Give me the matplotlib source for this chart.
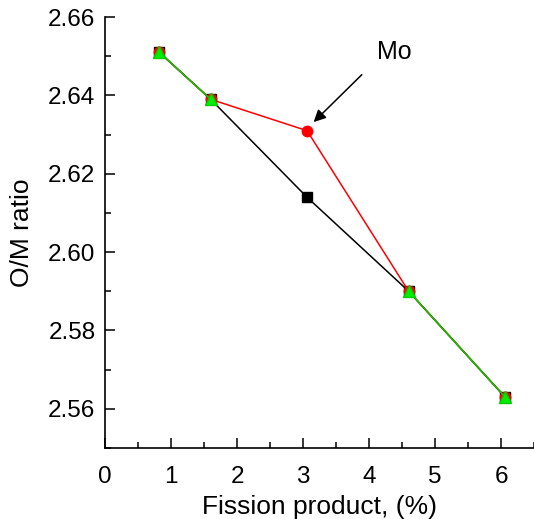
import numpy as np
import matplotlib.pyplot as plt
from matplotlib.ticker import MultipleLocator

plt.rcParams['font.family'] = ['Liberation Sans', 'DejaVu Sans']

# data
fission = [0.82, 1.6, 3.06, 4.6, 6.06]
om_black = [2.651, 2.639, 2.614, 2.590, 2.563]
om_red = [2.651, 2.639, 2.631, 2.590, 2.563]
om_green = [2.651, 2.639, np.nan, 2.590, 2.563]

fig = plt.figure(figsize=(5.34, 5.19), dpi=100)
ax = fig.add_axes([0.197, 0.137, 0.803, 0.830])

ax.plot(fission, om_black, color='black', lw=1.1, marker='s', ms=7)
ax.plot(fission, om_red, color='red', lw=1.1, marker='o', ms=7.5)
ax.plot(fission, om_green, color='#00cc00', lw=1.1, marker='^', ms=8,
        mfc='#00ee00', mec='#00cc00')

# arrow pointing at the Mo point
ax.annotate('', xy=(3.16, 2.6332), xytext=(3.89, 2.6453),
            arrowprops=dict(arrowstyle='-|>', color='black', lw=1.1,
                            shrinkA=0, shrinkB=0, mutation_scale=18))
ax.text(4.39, 2.6511, 'Mo', fontsize=18, ha='center', va='center')

ax.set_xlim(0, 6.5)
ax.set_ylim(2.55, 2.66)
ax.xaxis.set_major_locator(MultipleLocator(1))
ax.xaxis.set_minor_locator(MultipleLocator(0.5))
ax.yaxis.set_major_locator(MultipleLocator(0.02))
ax.yaxis.set_minor_locator(MultipleLocator(0.01))
ax.yaxis.set_major_formatter(plt.FormatStrFormatter('%.2f'))

ax.spines['top'].set_visible(False)
ax.spines['right'].set_visible(False)
for s in ('left', 'bottom'):
    ax.spines[s].set_linewidth(1.2)
ax.tick_params(which='both', direction='in', labelsize=17.5, width=1.1)
ax.tick_params(which='major', length=7)
ax.tick_params(which='minor', length=4)
ax.tick_params(axis='x', pad=13)
ax.tick_params(axis='y', pad=7)

ax.set_xlabel('Fission product, (%)', fontsize=19, labelpad=5)
ax.set_ylabel('O/M ratio', fontsize=19, labelpad=10)

fig.savefig('out.png', dpi=100)
